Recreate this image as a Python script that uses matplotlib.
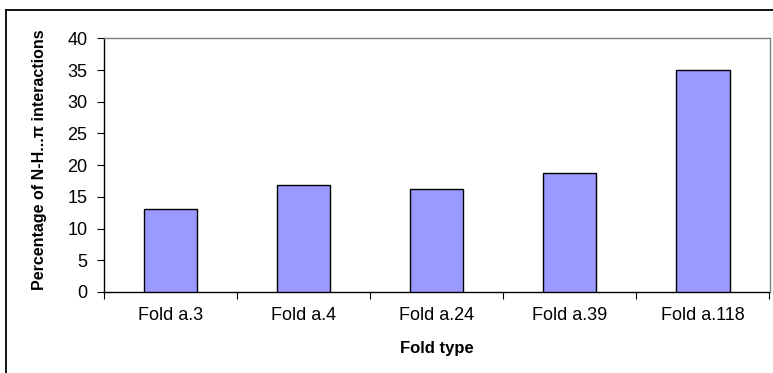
import matplotlib
matplotlib.use("Agg")
from matplotlib import pyplot as plt
from matplotlib.lines import Line2D

plt.rcParams['font.family'] = ['Liberation Sans', 'DejaVu Sans']

# share of N-H...pi interactions per fold type
folds = ['Fold a.3', 'Fold a.4', 'Fold a.24', 'Fold a.39', 'Fold a.118']
percent = [13.1, 16.9, 16.3, 18.8, 35.0]
yticks = [0, 5, 10, 15, 20, 25, 30, 35, 40]

W, H = 773, 373
fig = plt.figure(figsize=(W / 100, H / 100), dpi=100)
ax = fig.add_axes([104 / W, 1 - 292 / H, (769.5 - 104) / W, (292 - 38.3) / H])

x = list(range(len(folds)))
ax.bar(x, percent, width=0.4, color='#9999FF', edgecolor='black', linewidth=1.0, zorder=3)

ax.set_xlim(-0.5, len(folds) - 0.5)
ax.set_ylim(0, 40)
ax.set_yticks(yticks)
ax.set_yticklabels([str(v) for v in yticks], fontsize=13)

# category labels centred, ticks on the boundaries
ax.set_xticks(x)
ax.set_xticklabels(folds, fontsize=13)
ax.tick_params(axis='x', which='major', length=0, pad=11)
ax.set_xticks([i - 0.5 for i in range(len(folds) + 1)], minor=True)
ax.tick_params(axis='x', which='minor', length=5, width=0.8, color='black', direction='out')
ax.tick_params(axis='y', length=5, width=0.8, direction='out', pad=7)

for side in ['top', 'right']:
    ax.spines[side].set_color('#808080')
    ax.spines[side].set_linewidth(1.0)
for side in ['left', 'bottom']:
    ax.spines[side].set_color('black')
    ax.spines[side].set_linewidth(1.0)

fig.text(40 / W, 1 - 160 / H, 'Percentage of N-H...π interactions', rotation=90,
         ha='center', va='center', fontsize=11.5, fontweight='bold')
fig.text((104 + 769.5) / 2 / W, 1 - 348 / H, 'Fold type',
         ha='center', va='center', fontsize=12, fontweight='bold')

# outer chart frame
fig.add_artist(Line2D([6.5 / W, 6.5 / W], [0, 1 - 10.3 / H], transform=fig.transFigure,
                      color='black', linewidth=1.3))
fig.add_artist(Line2D([6.5 / W, 1], [1 - 10.3 / H, 1 - 10.3 / H], transform=fig.transFigure,
                      color='black', linewidth=1.3))

fig.savefig('out.png', dpi=100)
